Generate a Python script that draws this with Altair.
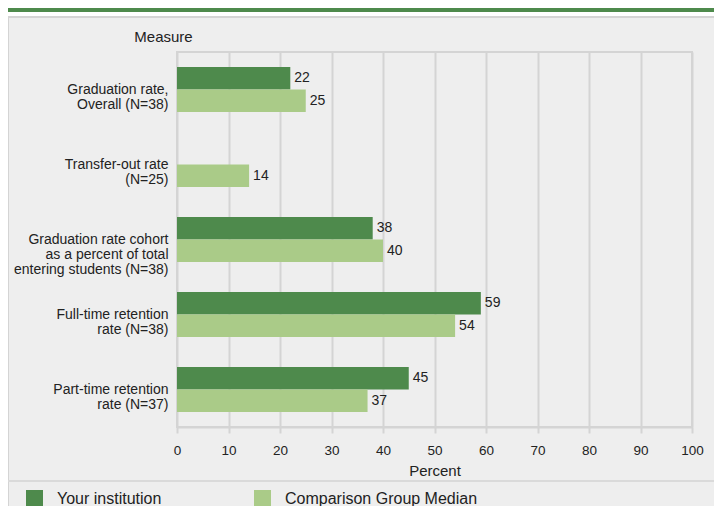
import altair as alt
import pandas as pd

categories = [
    "Graduation rate,|Overall (N=38)",
    "Transfer-out rate|(N=25)",
    "Graduation rate cohort|as a percent of total|entering students (N=38)",
    "Full-time retention|rate (N=38)",
    "Part-time retention|rate (N=37)",
]
series = ["Your institution", "Comparison Group Median"]
institution = [22, None, 38, 59, 45]
comparison = [25, 14, 40, 54, 37]
x_ticks = [0, 10, 20, 30, 40, 50, 60, 70, 80, 90, 100]

DARK = "#4E8A4C"
LIGHT = "#AACB88"
GRID = "#D4D4D4"
BG = "#EEEEEE"
TXT = "#222222"
FONT = "Liberation Sans"

rows = []
for c, a, b in zip(categories, institution, comparison):
    if a is not None:
        rows.append({"measure": c, "series": series[0], "value": a})
    if b is not None:
        rows.append({"measure": c, "series": series[1], "value": b})
df = pd.DataFrame(rows)

W, H = 515, 375

x_enc = alt.X(
    "value:Q",
    scale=alt.Scale(domain=[0, 100], nice=False),
    axis=alt.Axis(
        values=x_ticks, title="Percent", grid=True, gridColor=GRID, gridWidth=2,
        domainColor=GRID, domainWidth=2, tickColor=GRID, tickWidth=2, tickSize=6,
        labelFontSize=13.5, labelColor=TXT, labelPadding=10, labelFont=FONT,
        labelFlush=False, labelOverlap=False,
        titleFontSize=15, titleFontWeight="normal", titleColor=TXT, titlePadding=7,
        titleFont=FONT,
    ),
)
y_enc = alt.Y(
    "measure:N",
    sort=categories,
    scale=alt.Scale(paddingInner=0.4, paddingOuter=0.2),
    axis=alt.Axis(
        title="Measure", titleAngle=0, titleAlign="center", titleBaseline="alphabetic",
        titleX=-14, titleY=-11, titleFontSize=15, titleFontWeight="normal",
        titleColor=TXT, titleFont=FONT,
        labelExpr="split(datum.label, '|')", labelLineHeight=15,
        labelFontSize=14, labelColor=TXT, labelFont=FONT, labelPadding=9,
        labelLimit=300, domain=False, ticks=False, grid=False,
    ),
)
yoff = alt.YOffset("series:N", sort=series, scale=alt.Scale(paddingInner=0, paddingOuter=0))
color = alt.Color(
    "series:N", sort=series,
    scale=alt.Scale(domain=series, range=[DARK, LIGHT]),
    legend=alt.Legend(
        orient="none", legendX=-151, legendY=438, direction="horizontal",
        title=None, symbolType="square", symbolSize=289, symbolStrokeWidth=0,
        symbolOpacity=1, labelFontSize=16, labelColor=TXT, labelFont=FONT,
        labelOffset=14, columnPadding=92, padding=0, labelLimit=400,
    ),
)

base = alt.Chart(df)
bars = base.mark_bar().encode(x=x_enc, y=y_enc, yOffset=yoff, color=color)
labels = base.mark_text(align="left", baseline="middle", dx=4, fontSize=14,
                        color=TXT, font=FONT).encode(
    x="value:Q", y=alt.Y("measure:N", sort=categories), yOffset=yoff,
    text="value:Q")

one = alt.Data(values=[{}])
white_strip = alt.Chart(one).mark_rect(color="white").encode(
    x=alt.value(-170), x2=alt.value(600), y=alt.value(-45), y2=alt.value(-36))
green_strip = alt.Chart(one).mark_rect(color=DARK).encode(
    x=alt.value(-170), x2=alt.value(600), y=alt.value(-45), y2=alt.value(-40))
top_border = alt.Chart(one).mark_rect(color=GRID).encode(
    x=alt.value(-170), x2=alt.value(600), y=alt.value(-36), y2=alt.value(-34))
left_border = alt.Chart(one).mark_rect(color=GRID).encode(
    x=alt.value(-170), x2=alt.value(-168), y=alt.value(-36), y2=alt.value(480))
separator = alt.Chart(one).mark_rect(color="#DADADA").encode(
    x=alt.value(-170), x2=alt.value(600), y=alt.value(428), y2=alt.value(430))

chart = alt.layer(
    white_strip, green_strip, top_border, left_border, separator, bars, labels
).properties(
    width=W, height=H,
    autosize=alt.AutoSizeParams(type="none"),
    padding={"left": 169, "top": 44, "right": 22, "bottom": 79},
).configure(
    background=BG, font=FONT,
).configure_view(
    stroke=GRID, strokeWidth=2,
)

chart.save("out.html", embed_options={"renderer": "svg", "actions": False})
